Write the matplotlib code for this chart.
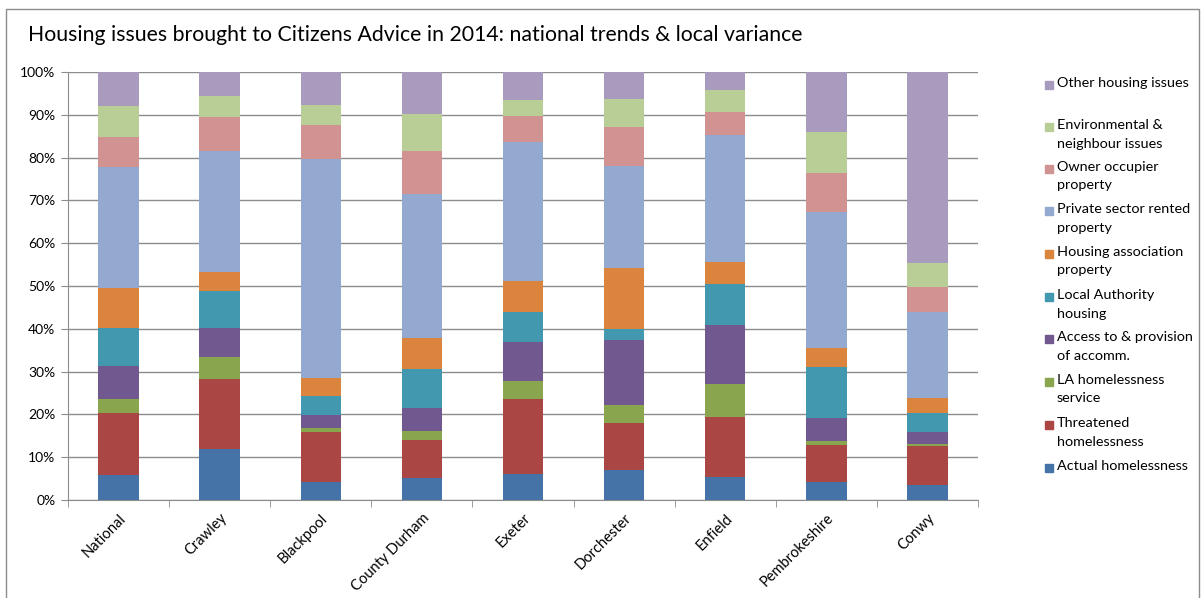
import numpy as np
import matplotlib
matplotlib.use("Agg")
import matplotlib.pyplot as plt
from matplotlib.patches import Rectangle
from matplotlib.ticker import FixedLocator, PercentFormatter

areas = ["National", "Crawley", "Blackpool", "County Durham", "Exeter",
         "Dorchester", "Enfield", "Pembrokeshire", "Conwy"]

series_names = ["Actual homelessness", "Threatened\nhomelessness",
                "LA homelessness\nservice", "Access to & provision\nof accomm.",
                "Local Authority\nhousing", "Housing association\nproperty",
                "Private sector rented\nproperty", "Owner occupier\nproperty",
                "Environmental &\nneighbour issues", "Other housing issues"]

# share of issues (%) per area, bottom to top
actual_homeless = [5.9, 11.9, 4.1, 5.1, 6.1, 7.0, 5.3, 4.1, 3.6]
threatened_homeless = [14.4, 16.3, 11.9, 8.9, 17.4, 11.0, 14.2, 8.8, 9.0]
la_homeless_service = [3.4, 5.1, 0.9, 2.2, 4.3, 4.1, 7.7, 0.8, 0.5]
access_accomm = [7.6, 6.9, 2.9, 5.3, 9.0, 15.3, 13.6, 5.4, 2.9]
la_housing = [8.9, 8.7, 4.6, 9.2, 7.2, 2.6, 9.6, 11.9, 4.4]
housing_assoc = [9.3, 4.4, 4.0, 7.2, 7.2, 14.2, 5.3, 4.4, 3.4]
private_rented = [28.3, 28.2, 51.2, 33.5, 32.4, 23.9, 29.6, 32.0, 20.2]
owner_occupier = [7.0, 7.9, 8.1, 10.2, 6.1, 9.0, 5.3, 9.0, 5.8]
environmental = [7.2, 4.9, 4.6, 8.6, 3.7, 6.6, 5.1, 9.5, 5.5]
other_issues = [8.0, 5.7, 7.7, 9.8, 6.6, 6.3, 4.3, 14.1, 44.7]

colors = ["#4572A7", "#AA4643", "#89A54E", "#71588F", "#4198AF",
          "#DB843D", "#93A9CF", "#D19392", "#B9CD96", "#A99BBD"]

data = np.array([actual_homeless, threatened_homeless, la_homeless_service,
                 access_accomm, la_housing, housing_assoc, private_rented,
                 owner_occupier, environmental, other_issues])
data = data / data.sum(axis=0) * 100  # 100% stacked

plt.rcParams['font.family'] = ['Lato', 'DejaVu Sans']
W, H = 1203, 598
fig = plt.figure(figsize=(W / 100, H / 100), dpi=100)
ax = fig.add_axes([68 / W, (H - 500) / H, (978 - 68) / W, (500 - 72) / H])

x = np.arange(len(areas))
bottom = np.zeros(len(areas))
for vals, col in zip(data, colors):
    ax.bar(x, vals, 0.4, bottom=bottom, color=col, zorder=3)
    bottom += vals

ax.set_xlim(-0.5, len(areas) - 0.5)
ax.set_ylim(0, 100)
ax.set_yticks(np.arange(0, 101, 10))
ax.yaxis.set_major_formatter(PercentFormatter(decimals=0))
ax.grid(axis='y', color='#8c8c8c', linewidth=1, zorder=0)
ax.tick_params(axis='y', length=5, color='#8c8c8c', labelsize=10, pad=4)

ax.set_xticks(x)
ax.set_xticklabels(areas, rotation=45, ha='right', rotation_mode='anchor', fontsize=10.5)
ax.tick_params(axis='x', which='major', length=0, pad=8)
ax.xaxis.set_minor_locator(FixedLocator(np.arange(-0.5, len(areas), 1)))
ax.tick_params(axis='x', which='minor', length=5, color='#8c8c8c')

for side in ['top', 'right']:
    ax.spines[side].set_visible(False)
for side in ['left', 'bottom']:
    ax.spines[side].set_color('#8c8c8c')

fig.text(28 / W, 1 - 35 / H, "Housing issues brought to Citizens Advice in 2014: national trends & local variance",
         fontsize=15.3, va='center', ha='left')

# legend, top entry first
leg_y = [85, 127, 169, 211, 254, 297, 339, 382, 425, 468]
for name, col, yy in zip(series_names[::-1], colors[::-1], leg_y):
    fig.patches.append(Rectangle((1045 / W, 1 - (yy + 4) / H), 8 / W, 8 / H,
                                 transform=fig.transFigure, color=col))
    fig.text(1057 / W, 1 - (yy - 8) / H, name, fontsize=10.4, va='top', ha='left',
             linespacing=1.65)

fig.patches.append(Rectangle((6 / W, -0.01), (W - 10) / W, 1 - 9 / H + 0.01,
                             transform=fig.transFigure,
                             fill=False, edgecolor='#8c8c8c', linewidth=1))

fig.savefig("out.png", dpi=100)
